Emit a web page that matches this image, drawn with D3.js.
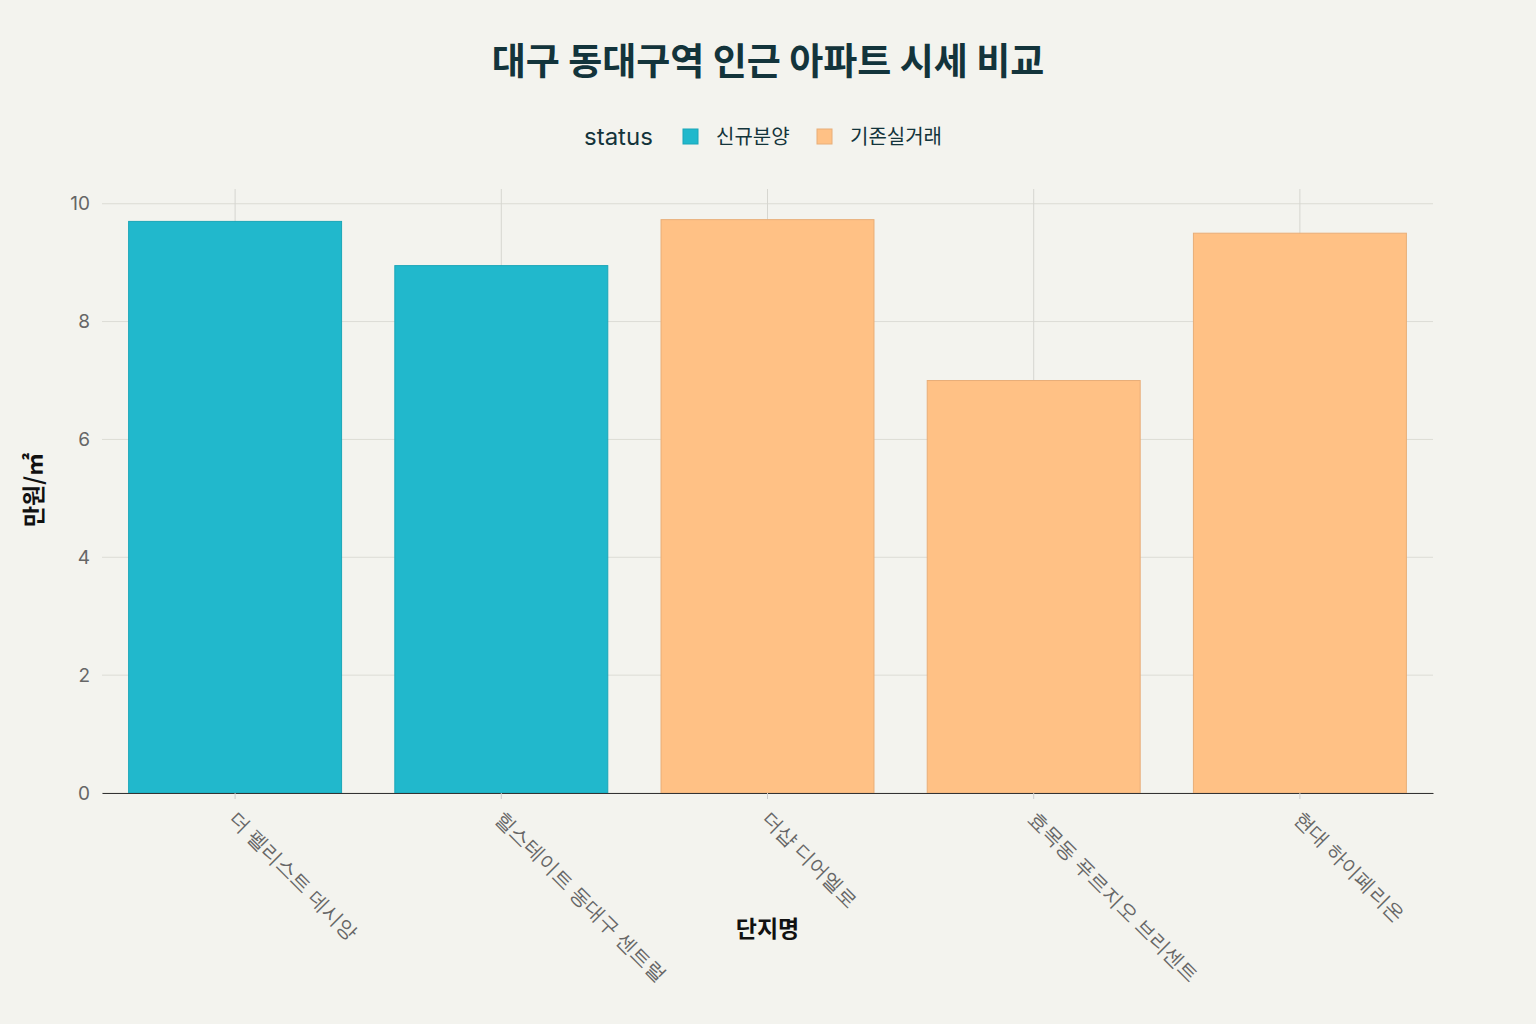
<!DOCTYPE html>
<html>
<head>
<meta charset="utf-8">
<script src="https://cdn.jsdelivr.net/npm/d3@7"></script>
<style>
  body { margin: 0; background: #f3f3ee; }
  svg { display: block; font-family: "Noto Sans CJK KR", "Noto Sans", sans-serif; }
</style>
</head>
<body>
<div id="chart"></div>
<script>
// Chart data
var complexes = ["더 펠리스트 데시앙", "힐스테이트 동대구 센트럴", "더샵 디어엘로", "효목동 푸르지오 브리센트", "현대 하이페리온"];
var prices = [9.7, 8.95, 9.73, 7.0, 9.5];
var statuses = ["신규분양", "신규분양", "기존실거래", "기존실거래", "기존실거래"];
var statusNames = ["신규분양", "기존실거래"];
var yTicks = [0, 2, 4, 6, 8, 10];

var svgWidth = 1536;
var svgHeight = 1024;

var margin = { top: 189, right: 103, bottom: 231, left: 102 };
var width = svgWidth - margin.left - margin.right;
var height = svgHeight - margin.top - margin.bottom;

var svg = d3.select("#chart")
  .append("svg")
  .attr("width", svgWidth)
  .attr("height", svgHeight);

svg.append("rect")
  .attr("width", svgWidth)
  .attr("height", svgHeight)
  .attr("fill", "#f3f3ee");

var chartGroup = svg.append("g")
  .attr("transform", `translate(${margin.left}, ${margin.top})`);

var xScale = d3.scaleBand()
  .domain(complexes)
  .range([0, width])
  .paddingInner(0.2)
  .paddingOuter(0.1);

var yScale = d3.scaleLinear()
  .domain([0, 10.25])
  .range([height, 0]);

var color = d3.scaleOrdinal()
  .domain(statusNames)
  .range(["#21b8cc", "#ffc185"]);
var strokeColor = d3.scaleOrdinal()
  .domain(statusNames)
  .range(["#1ba6b8", "#e8ae78"]);

// horizontal grid
chartGroup.append("g")
  .selectAll("line")
  .data(yTicks)
  .enter()
  .append("line")
  .attr("x1", 0)
  .attr("x2", width)
  .attr("y1", d => yScale(d))
  .attr("y2", d => yScale(d))
  .attr("stroke", "#dcdcd5")
  .attr("stroke-width", 1);

// vertical grid
chartGroup.append("g")
  .selectAll("line")
  .data(complexes)
  .enter()
  .append("line")
  .attr("x1", d => xScale(d) + xScale.bandwidth() / 2)
  .attr("x2", d => xScale(d) + xScale.bandwidth() / 2)
  .attr("y1", 0)
  .attr("y2", height)
  .attr("stroke", "#d6d6d0")
  .attr("stroke-width", 1);

// bars
chartGroup.selectAll(".bar")
  .data(complexes)
  .enter()
  .append("rect")
  .attr("class", "bar")
  .attr("x", d => xScale(d))
  .attr("y", (d, i) => yScale(prices[i]))
  .attr("width", xScale.bandwidth())
  .attr("height", (d, i) => height - yScale(prices[i]))
  .attr("fill", (d, i) => color(statuses[i]))
  .attr("stroke", (d, i) => strokeColor(statuses[i]))
  .attr("stroke-width", 1);

// y axis
var leftAxis = d3.axisLeft(yScale).tickValues(yTicks).tickSize(0).tickPadding(12);
var yAxis = chartGroup.append("g").call(leftAxis);
yAxis.select(".domain").remove();
yAxis.selectAll("text")
  .attr("fill", "#666")
  .attr("font-size", "19px")
  .attr("font-family", "Inter, 'Noto Sans', sans-serif");

// x axis
var bottomAxis = d3.axisBottom(xScale).tickSize(6).tickSizeOuter(0).tickPadding(10);
var xAxis = chartGroup.append("g")
  .attr("transform", `translate(0, ${height})`)
  .call(bottomAxis);
xAxis.select(".domain").attr("stroke", "#333").attr("stroke-width", 1);
xAxis.selectAll(".tick line").attr("stroke", "#ccc");
xAxis.selectAll("text")
  .attr("fill", "#666")
  .attr("font-size", "20px")
  .attr("text-anchor", "start")
  .attr("dy", "0.35em")
  .attr("transform", "translate(-2, 22) rotate(45)")
  .attr("x", 0)
  .attr("y", 0);

// axis titles
svg.append("text")
  .attr("x", margin.left + width / 2)
  .attr("y", 937)
  .attr("text-anchor", "middle")
  .attr("font-size", "23px")
  .attr("font-weight", "bold")
  .attr("fill", "#111")
  .text("단지명");

svg.append("text")
  .attr("transform", `translate(42, ${490}) rotate(-90)`)
  .attr("text-anchor", "middle")
  .attr("font-size", "23px")
  .attr("font-weight", "bold")
  .attr("fill", "#111")
  .text("만원/㎡");

// title
svg.append("text")
  .attr("x", 768)
  .attr("y", 75)
  .attr("text-anchor", "middle")
  .attr("font-size", "37px")
  .attr("font-weight", "bold")
  .attr("fill", "#13343b")
  .text("대구 동대구역 인근 아파트 시세 비교");

// legend
var legend = svg.append("g").attr("transform", "translate(0, 137)");
legend.append("text")
  .attr("x", 584)
  .attr("y", 8)
  .attr("font-size", "24px")
  .attr("fill", "#13343b")
  .attr("font-family", "Inter, 'Noto Sans', sans-serif")
  .text("status");

var legendX = [683, 817];
statusNames.forEach(function(s, i) {
  legend.append("rect")
    .attr("x", legendX[i])
    .attr("y", -8)
    .attr("width", 15)
    .attr("height", 15)
    .attr("fill", color(s))
    .attr("stroke", strokeColor(s));
  legend.append("text")
    .attr("x", legendX[i] + 33)
    .attr("y", 7)
    .attr("font-size", "20px")
    .attr("fill", "#13343b")
    .text(s);
});
</script>
</body>
</html>
